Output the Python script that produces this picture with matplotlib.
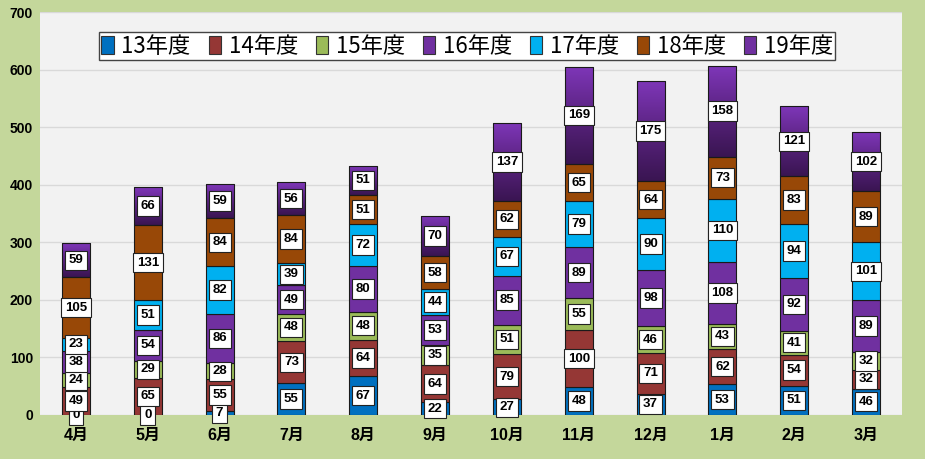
import matplotlib
matplotlib.use("Agg")
import matplotlib.pyplot as plt
import numpy as np
from matplotlib.colors import LinearSegmentedColormap
from matplotlib.patches import Patch

plt.rcParams['font.family'] = ['Liberation Sans', 'Noto Sans CJK JP']

months = ['4月', '5月', '6月', '7月', '8月', '9月', '10月', '11月', '12月', '1月', '2月', '3月']
series_names = ['13年度', '14年度', '15年度', '16年度', '17年度', '18年度', '19年度']
s13 = [0, 0, 7, 55, 67, 22, 27, 48, 37, 53, 51, 46]
s14 = [49, 65, 55, 73, 64, 64, 79, 100, 71, 62, 54, 32]
s15 = [24, 29, 28, 48, 48, 35, 51, 55, 46, 43, 41, 32]
s16 = [38, 54, 86, 49, 80, 53, 85, 89, 98, 108, 92, 89]
s17 = [23, 51, 82, 39, 72, 44, 67, 79, 90, 110, 94, 101]
s18 = [105, 131, 84, 84, 51, 58, 62, 65, 64, 73, 83, 89]
s19 = [59, 66, 59, 56, 51, 70, 137, 169, 175, 158, 121, 102]
yticks = [0, 100, 200, 300, 400, 500, 600, 700]

series = [s13, s14, s15, s16, s17, s18, s19]
colors = ['#0070C0', '#953735', '#9BBB59', '#7030A0', '#00B0F0', '#984807', '#7030A0']

fig = plt.figure(figsize=(9.25, 4.59), dpi=100, facecolor='#C4D79B')
ax = fig.add_axes([40/925, 44/459, 862/925, 403/459])
ax.set_facecolor('#F2F2F2')

x = np.arange(len(months))
w = 0.39
bottom = np.zeros(len(months))
grad = LinearSegmentedColormap.from_list('g', ['#3A1552', '#5A2380', '#7E36B8'])
gimg = np.linspace(0, 1, 64).reshape(-1, 1)

for i, (vals, col) in enumerate(zip(series, colors)):
    vals = np.array(vals, dtype=float)
    if i == 6:
        bars = ax.bar(x, vals, w, bottom=bottom, facecolor='none', edgecolor='#1a1a1a',
                      linewidth=0.8, zorder=3)
        for b in bars:
            x0, y0 = b.get_x(), b.get_y()
            im = ax.imshow(gimg, cmap=grad, origin='lower', aspect='auto',
                           extent=[x0, x0 + b.get_width(), y0, y0 + b.get_height()],
                           zorder=2.5)
            im.set_clip_path(b)
    else:
        ax.bar(x, vals, w, bottom=bottom, color=col, edgecolor='#1a1a1a',
               linewidth=0.8, zorder=3)
    for xi, b0, v in zip(x, bottom, vals):
        ax.text(xi, b0 + v / 2, f"{int(v)}", ha='center', va='center', fontsize=9.5,
                fontweight='bold', zorder=6,
                bbox=dict(boxstyle='square,pad=0.28', fc='white', ec='#222222', lw=0.8))
    bottom = bottom + vals

ax.set_xlim(-0.5, len(months) - 0.5)
ax.set_ylim(0, 700)
ax.set_yticks(yticks)
ax.set_yticklabels([str(t) for t in yticks], fontsize=10, fontweight='bold')
ax.set_xticks(x)
ax.set_xticklabels(months, fontsize=11.5, fontweight='bold')
ax.tick_params(axis='both', length=0)
ax.tick_params(axis='x', pad=9)
ax.tick_params(axis='y', pad=5)
ax.yaxis.grid(True, color='#D9D9D9', lw=1, zorder=0)
ax.set_axisbelow(True)
for s in ax.spines.values():
    s.set_visible(False)

handles = [Patch(facecolor=c, edgecolor='#333333', lw=0.8) for c in colors]
leg = fig.legend(handles, series_names, loc='upper center', ncol=7,
                 bbox_to_anchor=(0.505, 1 - 32/459), bbox_transform=fig.transFigure,
                 borderaxespad=0,
                 prop={'family': ['Liberation Sans Narrow', 'Noto Sans CJK JP'], 'size': 16},
                 handlelength=0.55, handleheight=0.9, handletextpad=0.35, columnspacing=0.8,
                 borderpad=0.12, frameon=True, fancybox=False, framealpha=1)
leg.get_frame().set_edgecolor('#444444')
leg.get_frame().set_linewidth(1.0)

fig.savefig('out.png', dpi=100, facecolor=fig.get_facecolor())
